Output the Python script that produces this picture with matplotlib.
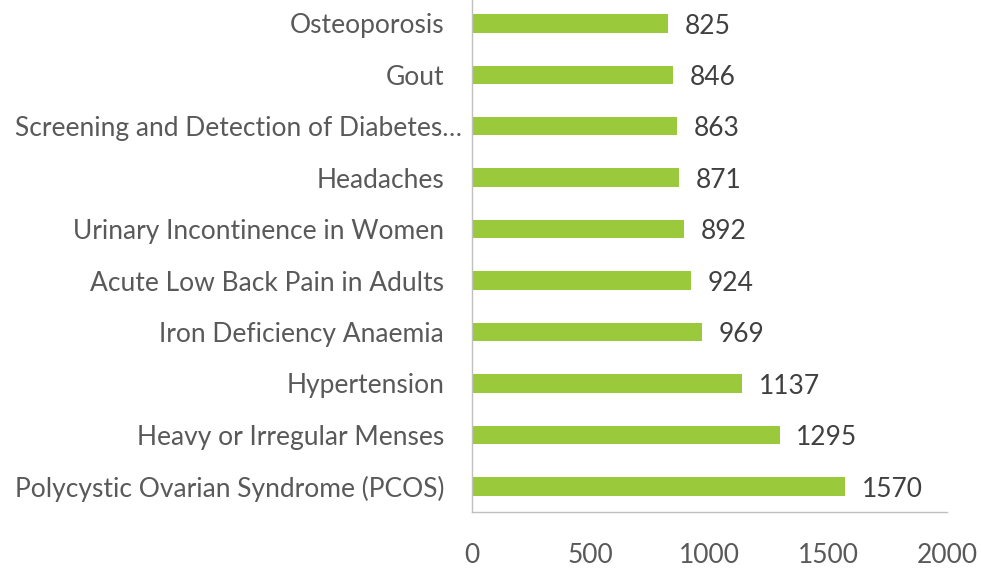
import matplotlib.pyplot as plt
import matplotlib.transforms as mtransforms

plt.rcParams["font.family"] = ["Lato", "DejaVu Sans"]

conditions = ["Polycystic Ovarian Syndrome (PCOS)", "Heavy or Irregular Menses", "Hypertension",
              "Iron Deficiency Anaemia", "Acute Low Back Pain in Adults",
              "Urinary Incontinence in Women", "Headaches",
              "Screening and Detection of Diabetes\u2026", "Gout", "Osteoporosis"]
counts = [1570, 1295, 1137, 969, 924, 892, 871, 863, 846, 825]
xticks = [0, 500, 1000, 1500, 2000]

fig = plt.figure(figsize=(9.81, 5.69), dpi=100)
ax = fig.add_axes([0.4811, 0.1002, 0.4842, 0.9040])

ax.barh(range(len(conditions)), counts, height=0.36, color="#9ACA3C")
for i, v in enumerate(counts):
    ax.annotate(str(v), (v, i), xytext=(12, -2), textcoords="offset points",
                va="center", ha="left", fontsize=19, color="#404040")

ax.set_xlim(0, 2000)
ax.set_ylim(-0.5, len(conditions) - 0.5)
ax.set_xticks(xticks)
ax.set_yticks(range(len(conditions)))
ax.set_yticklabels(conditions)
ax.tick_params(axis="x", length=0, pad=22, labelsize=19, labelcolor="#595959")
ax.tick_params(axis="y", length=0, pad=20, labelsize=19, labelcolor="#595959")

# the truncated label sits a bit further right
lab = ax.get_yticklabels()[7]
lab.set_transform(lab.get_transform() + mtransforms.ScaledTranslation(18 / 100, 0, fig.dpi_scale_trans))

for s in ["top", "right"]:
    ax.spines[s].set_visible(False)
for s in ["left", "bottom"]:
    ax.spines[s].set_color("#BFBFBF")
    ax.spines[s].set_linewidth(1)

fig.savefig("out.png", dpi=100)
